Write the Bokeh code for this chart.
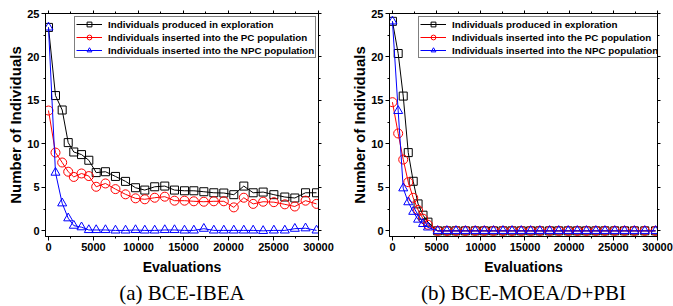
from bokeh.plotting import figure
from bokeh.layouts import row
from bokeh.models import Range1d, LinearAxis, Legend, LegendItem, Title, SingleIntervalTicker
from bokeh.embed import file_html
from bokeh.resources import INLINE

# ---------------- data ----------------
series_names = ["Individuals produced in exploration",
                "Individuals inserted into the PC population",
                "Individuals inserted into the NPC population"]

# (a) BCE-IBEA
a_x = [0, 778, 1520, 2190, 2810, 3670, 4480, 5300, 6330, 7440, 8560, 9670, 10700, 11800,
       12920, 14000, 15110, 16150, 17260, 18370, 19480, 20590, 21700, 22740, 23850, 25040,
       26260, 27370, 28560, 29780]
a_explore = [23.4, 15.56, 13.9, 10.15, 9.07, 8.77, 8.12, 6.7, 6.8, 6.26, 5.69, 4.96, 4.69, 5.07,
             5.15, 4.69, 4.61, 4.61, 4.5, 4.38, 4.35, 4.16, 5.15, 4.38, 4.46, 4.16, 3.89, 3.78,
             4.38, 4.38]
a_pc = [13.84, 9.0, 7.86, 6.8, 6.2, 6.6, 6.3, 5.07, 5.45, 4.8, 4.2, 3.74, 3.63, 3.81, 3.93,
        3.47, 3.47, 3.4, 3.35, 3.4, 3.4, 2.7, 3.81, 3.1, 3.35, 3.3, 3.05, 2.8, 3.47, 3.1]
a_npc = [23.4, 6.7, 3.17, 1.45, 0.6, 0.42, 0.1, 0.1, 0.1, 0.05, 0.05, 0.1, 0.05, 0.05, 0.1,
         0.1, 0.05, 0.05, 0.25, 0.05, 0.05, 0.05, 0.05, 0.05, 0.0, 0.05, 0.05, 0.25, 0.3, 0.05]

# (b) BCE-MOEA/D+PBI
b_x = [0, 650, 1220, 1790, 2350, 2900, 3460, 4020, 5120, 6160, 7190, 8260, 9370, 10400,
       11440, 12510, 13540, 14580, 15640, 16680, 17790, 18820, 19890, 20920, 21950, 23020,
       24050, 25160, 26270, 27380, 28560, 29780]
b_explore = [24.1, 20.4, 15.5, 9.0, 5.7, 3.1, 1.8, 1.0] + [0.0] * 24
b_pc = [14.8, 11.2, 8.2, 5.6, 3.8, 2.4, 1.4, 0.7] + [0.0] * 24
b_npc = [24.1, 13.8, 4.9, 3.3, 2.2, 1.3, 0.8, 0.4] + [0.0] * 24

captions = ["(a) BCE-IBEA", "(b) BCE-MOEA/D+PBI"]
x_label = "Evaluations"
y_label = "Number of Individuals"

colors = ["black", "red", "blue"]
markers = ["square", "circle", "triangle"]
msizes = [8, 9, 9]

FONT = "Liberation Sans"
X0, X1 = -333, 30000
Y0, Y1 = -0.65, 25
FRAME_W, FRAME_H = 273, 224
TOP_B, BOT_B = 13, 69


def style_axis(ax, labels=True):
    ax.axis_line_color = "black"
    ax.axis_line_width = 1
    ax.major_tick_line_color = "black"
    ax.minor_tick_line_color = "black"
    ax.major_tick_in = 0
    ax.minor_tick_in = 0
    ax.major_tick_out = 4
    ax.minor_tick_out = 2
    if labels:
        ax.major_label_text_font = FONT
        ax.major_label_text_font_style = "bold"
        ax.major_label_text_font_size = "11px"
        ax.major_label_text_color = "black"
        ax.axis_label_text_font = FONT
        ax.axis_label_text_font_style = "bold"
        ax.axis_label_text_color = "black"
    else:
        ax.major_label_text_color = None
        ax.major_label_text_font_size = "1px"
        ax.major_label_standoff = 0


def make_panel(xs, ys_list, caption, bl, br):
    p = figure(width=bl + FRAME_W + br, height=TOP_B + FRAME_H + BOT_B,
               x_range=Range1d(X0, X1), y_range=Range1d(Y0, Y1),
               output_backend="svg", toolbar_location=None,
               min_border_left=bl, min_border_right=br,
               min_border_top=TOP_B, min_border_bottom=BOT_B)
    p.xgrid.visible = False
    p.ygrid.visible = False
    p.outline_line_color = "black"

    p.xaxis.ticker = SingleIntervalTicker(interval=5000, num_minor_ticks=2)
    p.yaxis.ticker = SingleIntervalTicker(interval=5, num_minor_ticks=2)
    for ax in p.xaxis:
        style_axis(ax)
        ax.axis_label = x_label
        ax.axis_label_text_font_size = "14px"
        ax.major_label_standoff = 2
        ax.axis_label_standoff = 5
    for ax in p.yaxis:
        style_axis(ax)
        ax.axis_label = y_label
        ax.axis_label_text_font_size = "15px"
        ax.major_label_standoff = 2
        ax.axis_label_standoff = 0

    top = LinearAxis(ticker=SingleIntervalTicker(interval=5000, num_minor_ticks=2))
    style_axis(top, labels=False)
    top.major_tick_out = 3
    p.add_layout(top, "above")
    right = LinearAxis(ticker=SingleIntervalTicker(interval=5, num_minor_ticks=2))
    style_axis(right, labels=False)
    right.major_tick_out = 3
    p.add_layout(right, "right")

    items = []
    for ys, c, m, s, name in zip(ys_list, colors, markers, msizes, series_names):
        ln = p.line(xs, ys, line_color=c, line_width=1)
        sc = p.scatter(xs, ys, marker=m, size=s, line_color=c, fill_color=None, line_width=1)
        items.append(LegendItem(label=name, renderers=[ln, sc]))

    leg = Legend(items=items, location=(29, FRAME_H - 6 - 40))
    leg.label_text_font = FONT
    leg.label_text_font_style = "bold"
    leg.label_text_font_size = "9.8px"
    leg.label_text_color = "black"
    leg.glyph_width = 26
    leg.glyph_height = 12
    leg.label_height = 12
    leg.label_standoff = 6
    leg.spacing = 1
    leg.padding = 1
    leg.margin = 0
    leg.border_line_color = "black"
    leg.border_line_width = 1
    leg.background_fill_color = "white"
    p.add_layout(leg, "center")

    cap = Title(text=caption, align="center", text_font="Liberation Serif",
                text_font_size="21px", text_font_style="normal", text_color="black",
                standoff=3, offset=0)
    p.add_layout(cap, "below")
    return p


p1 = make_panel(a_x, [a_explore, a_pc, a_npc], captions[0], 45, 30)
p2 = make_panel(b_x, [b_explore, b_pc, b_npc], captions[1], 36, 16)

layout = row(p1, p2, spacing=0)
open("out.html", "w").write(file_html(layout, INLINE))
